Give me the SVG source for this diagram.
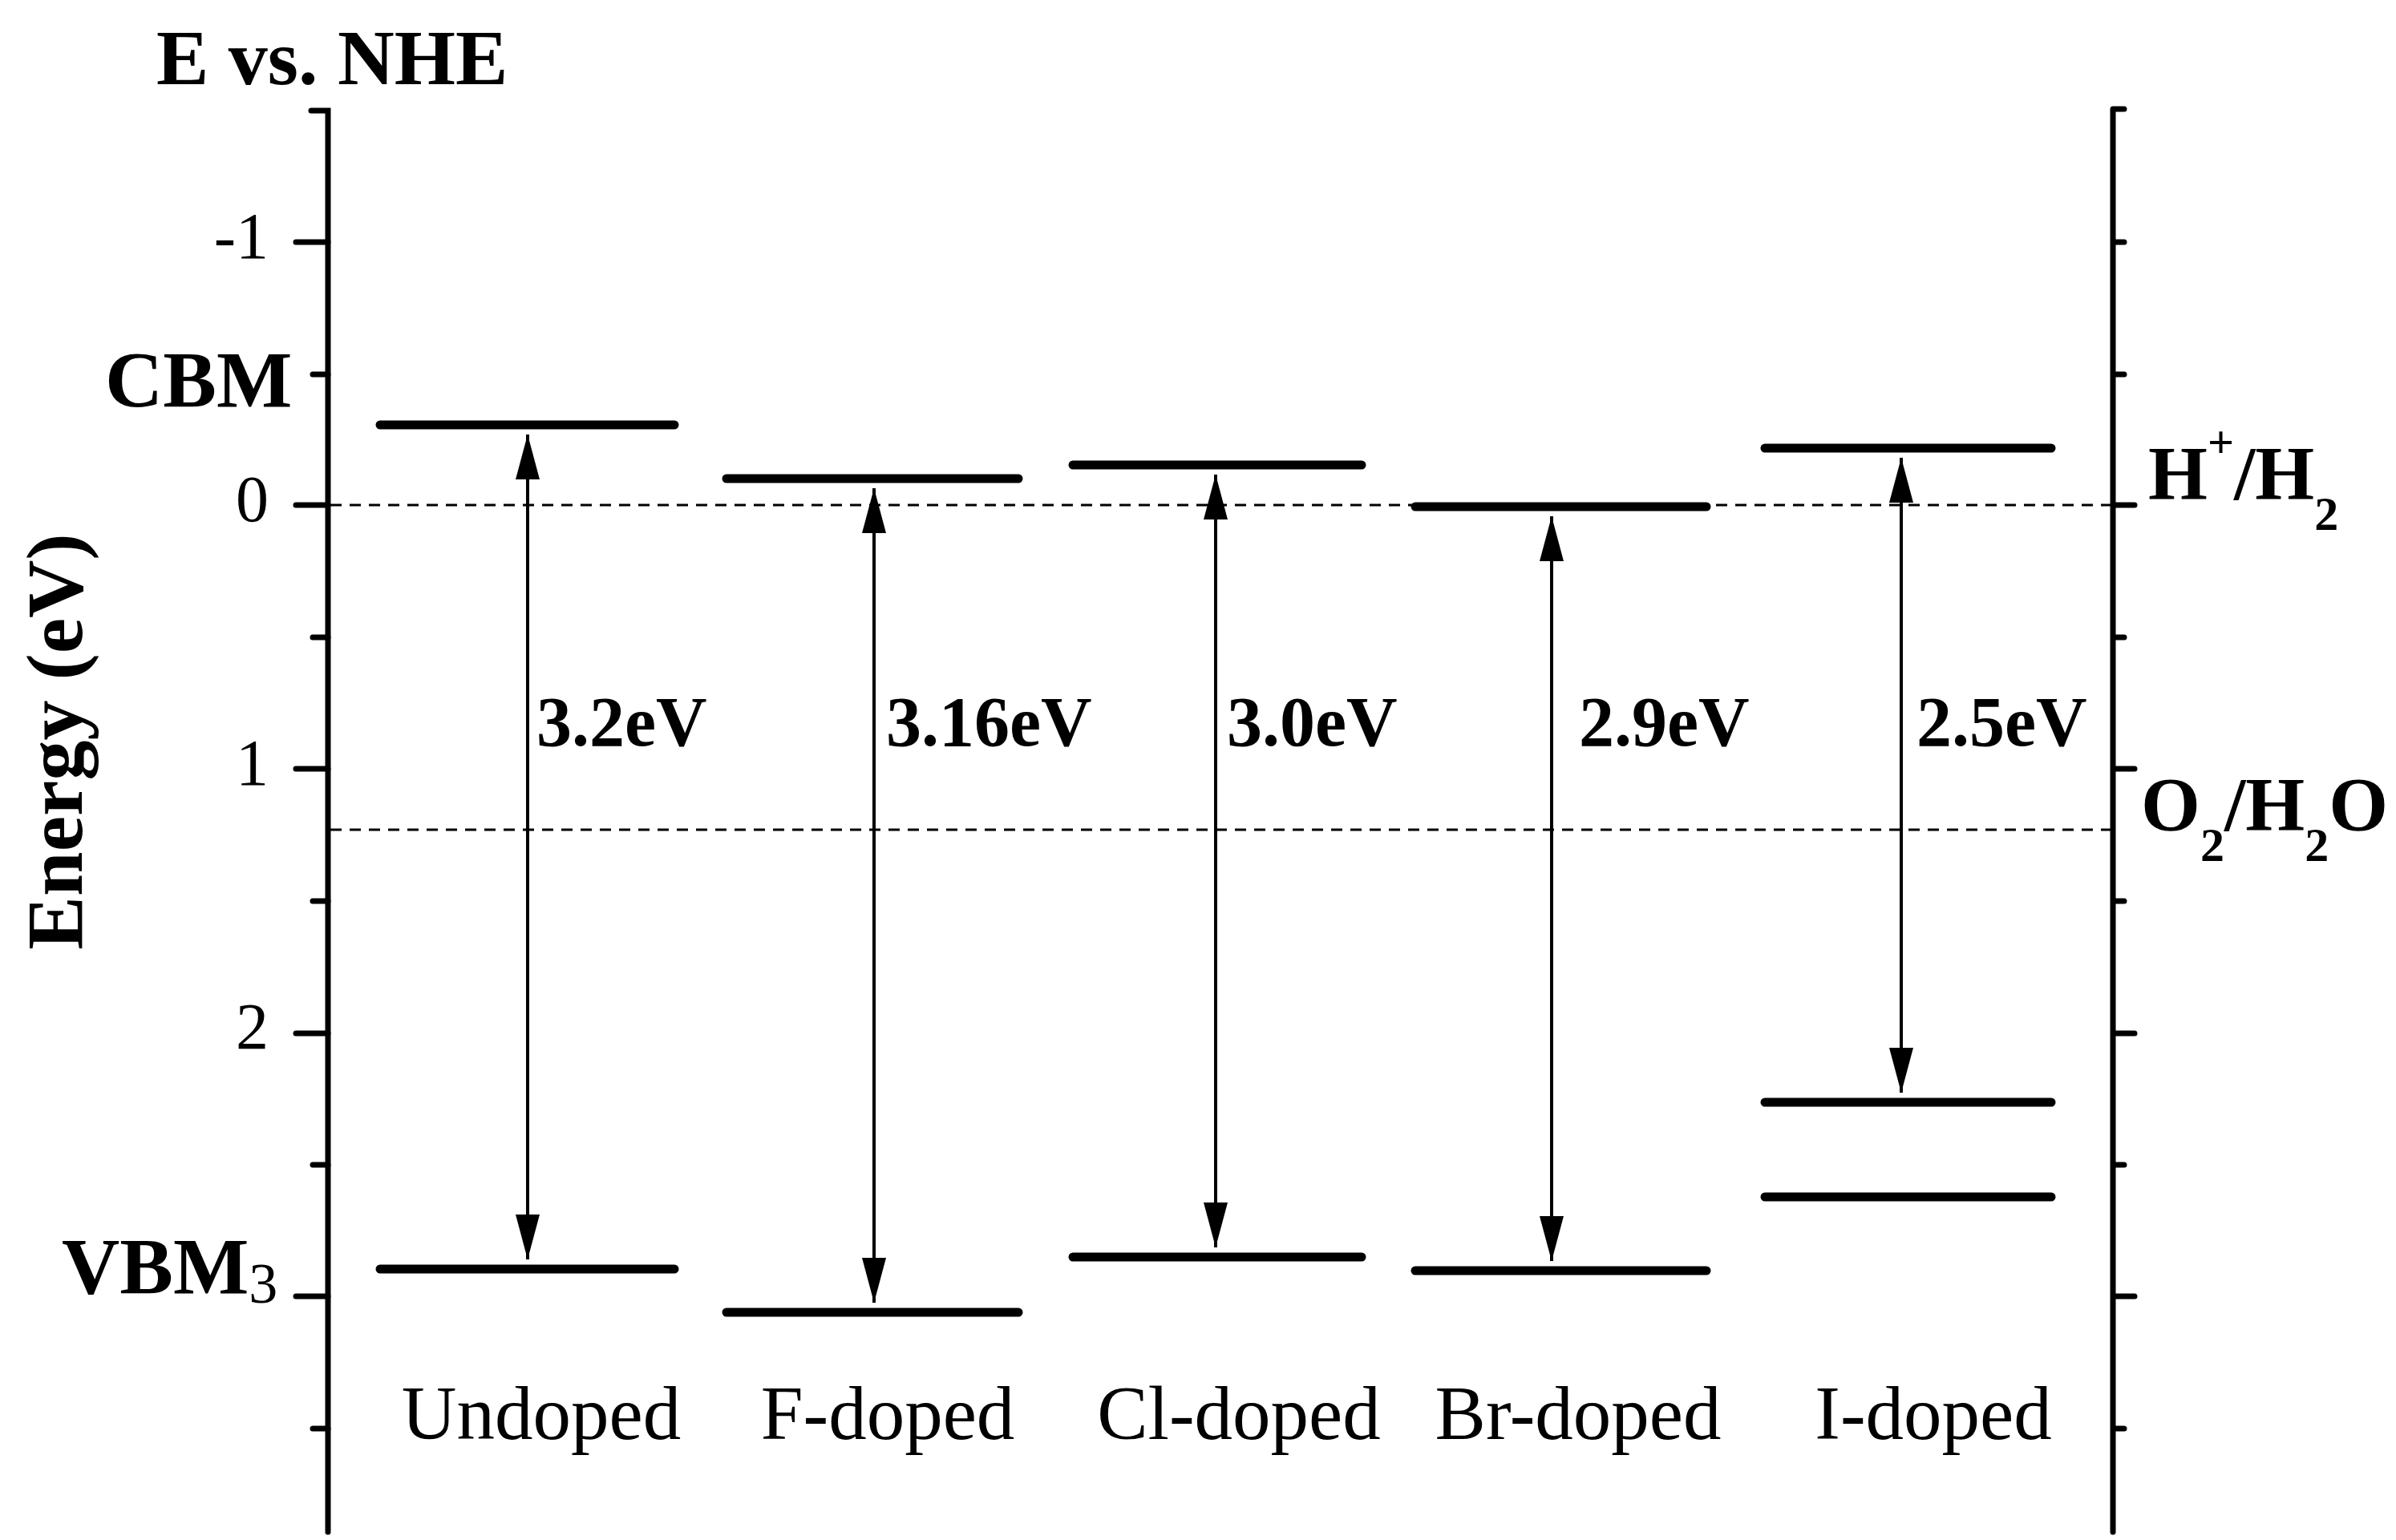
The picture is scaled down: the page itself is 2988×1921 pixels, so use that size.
<svg xmlns="http://www.w3.org/2000/svg" width="2988" height="1921" viewBox="0 0 2988 1921">
<style>
text{font-family:"Liberation Serif","Times New Roman",serif;fill:#000}
.b{font-weight:bold}
.ax{stroke:#000;stroke-width:7;fill:none;stroke-linecap:round}
.lvl{stroke:#000;stroke-width:11;stroke-linecap:round}
.dash{stroke:#000;stroke-width:3;stroke-dasharray:14,10}
.arr{stroke:#000;stroke-width:4}
.tk{font-size:82px}
.cat{font-size:95px;text-anchor:middle}
.gap{font-size:88px;font-weight:bold}
</style>
<defs>
<marker id="ah" viewBox="0 0 56 30" refX="56" refY="15" markerWidth="56" markerHeight="30" markerUnits="userSpaceOnUse" orient="auto-start-reverse">
<path d="M0,0 L56,15 L0,30 Z" fill="#000"/>
</marker>
</defs>
<rect width="2988" height="1921" fill="#fff"/>
<g id="axes">
<path class="ax" d="M388,138 H409 V1911"/>
<path class="ax" d="M369,302 H409 M390,467 H409 M369,630 H409 M390,795 H409 M369,959 H409 M390,1124 H409 M369,1289 H409 M390,1453 H409 M369,1617 H409 M390,1782 H409"/>
<path class="ax" d="M2635,136 V1911 M2635,136 H2649 M2635,302 H2649 M2635,467 H2649 M2635,630 H2662 M2635,795 H2649 M2635,959 H2662 M2635,1124 H2649 M2635,1289 H2662 M2635,1453 H2649 M2635,1617 H2662 M2635,1782 H2649"/>
<text class="tk" x="335" y="322" text-anchor="end">-1</text>
<text class="tk" x="335" y="650" text-anchor="end">0</text>
<text class="tk" x="335" y="979" text-anchor="end">1</text>
<text class="tk" x="335" y="1308" text-anchor="end">2</text>
<text class="b" x="195" y="105" font-size="98">E vs. NHE</text>
<text class="b" x="131" y="507" font-size="100">CBM</text>
<text class="b" x="77" y="1613" font-size="100">VBM<tspan font-weight="normal" font-size="72" dy="12">3</tspan></text>
<text class="b" font-size="100" text-anchor="middle" transform="translate(102,925) rotate(-90)">Energy (eV)</text>
<text class="b" x="2679" y="623" font-size="95">H<tspan font-size="58" dy="-52">+</tspan><tspan dy="52">/H</tspan><tspan font-size="60" dy="38">2</tspan></text>
<text class="b" x="2670" y="1036" font-size="95">O<tspan font-size="60" dy="38">2</tspan><tspan dy="-38">/H</tspan><tspan font-size="60" dy="38">2</tspan><tspan dy="-38">O</tspan></text>
</g>
<g id="refs">
<line class="dash" x1="412" y1="630" x2="2632" y2="630"/>
<line class="dash" x1="412" y1="1035" x2="2632" y2="1035"/>
</g>
<g id="undoped">
<line class="lvl" x1="474" y1="530" x2="841" y2="530"/>
<line class="lvl" x1="474" y1="1583" x2="841" y2="1583"/>
<text class="cat" x="675" y="1795">Undoped</text>
<text class="gap" x="669" y="930">3.2eV</text>
</g>
<g id="f-doped">
<line class="lvl" x1="906" y1="597" x2="1270" y2="597"/>
<line class="lvl" x1="906" y1="1637" x2="1270" y2="1637"/>
<text class="cat" x="1107" y="1795">F-doped</text>
<text class="gap" x="1105" y="930">3.16eV</text>
</g>
<g id="cl-doped">
<line class="lvl" x1="1338" y1="580" x2="1698" y2="580"/>
<line class="lvl" x1="1338" y1="1568" x2="1698" y2="1568"/>
<text class="cat" x="1545" y="1795">Cl-doped</text>
<text class="gap" x="1530" y="930">3.0eV</text>
</g>
<g id="br-doped">
<line class="lvl" x1="1765" y1="632" x2="2128" y2="632"/>
<line class="lvl" x1="1765" y1="1585" x2="2128" y2="1585"/>
<text class="cat" x="1968" y="1795">Br-doped</text>
<text class="gap" x="1969" y="930">2.9eV</text>
</g>
<g id="i-doped">
<line class="lvl" x1="2201" y1="559" x2="2558" y2="559"/>
<line class="lvl" x1="2201" y1="1375" x2="2558" y2="1375"/>
<line class="lvl" x1="2201" y1="1493" x2="2558" y2="1493"/>
<text class="cat" x="2411" y="1795">I-doped</text>
<text class="gap" x="2390" y="930">2.5eV</text>
</g>
<g id="connectors">
<line class="arr" x1="658" y1="542" x2="658" y2="1571" marker-start="url(#ah)" marker-end="url(#ah)"/>
<line class="arr" x1="1090" y1="609" x2="1090" y2="1625" marker-start="url(#ah)" marker-end="url(#ah)"/>
<line class="arr" x1="1516" y1="592" x2="1516" y2="1556" marker-start="url(#ah)" marker-end="url(#ah)"/>
<line class="arr" x1="1935" y1="644" x2="1935" y2="1573" marker-start="url(#ah)" marker-end="url(#ah)"/>
<line class="arr" x1="2371" y1="571" x2="2371" y2="1363" marker-start="url(#ah)" marker-end="url(#ah)"/>
</g>
</svg>
